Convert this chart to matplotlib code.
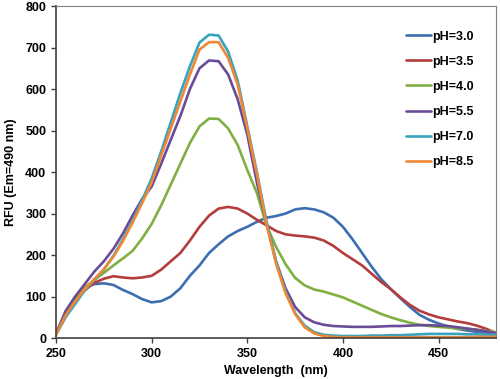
import numpy as np
import matplotlib
matplotlib.use('Agg')
import matplotlib.pyplot as plt

plt.rcParams['font.family'] = ['Liberation Sans', 'DejaVu Sans']
plt.rcParams['font.weight'] = 'bold'

# wavelength grid (nm)
wavelength = list(range(250, 485, 5))

# RFU values, one list per pH
ph30 = [10, 58, 95, 122, 130, 132, 128, 116, 106, 94, 86, 89, 100, 120, 150, 175, 205, 226, 245, 258,
        268, 280, 290, 294, 300, 310, 313, 310, 303, 290, 268, 238, 205, 172, 142, 118, 96, 75, 56, 44,
        35, 28, 22, 18, 15, 13, 10]
ph35 = [10, 55, 90, 115, 133, 143, 149, 146, 144, 146, 150, 165, 185, 205, 235, 268, 295, 312, 316, 312,
        300, 285, 272, 258, 250, 247, 245, 242, 235, 222, 205, 190, 175, 155, 135, 118, 98, 80, 66, 57,
        50, 45, 40, 36, 30, 22, 12]
ph40 = [10, 60, 98, 122, 140, 157, 175, 192, 210, 240, 275, 320, 370, 420, 470, 510, 529, 528, 505, 465,
        405, 350, 272, 220, 178, 145, 127, 117, 112, 105, 98, 88, 78, 68, 58, 50, 43, 37, 32, 29,
        27, 25, 23, 22, 20, 17, 14]
ph55 = [10, 65, 100, 130, 160, 185, 215, 252, 295, 335, 365, 420, 478, 535, 600, 650, 669, 667, 635, 575,
        490, 375, 278, 185, 120, 75, 50, 38, 32, 29, 28, 27, 27, 27, 28, 29, 29, 30, 31, 31,
        30, 29, 26, 23, 20, 16, 12]
ph70 = [8, 50, 82, 115, 140, 165, 198, 238, 282, 332, 385, 450, 520, 590, 655, 712, 731, 729, 690, 620,
        510, 400, 282, 185, 112, 60, 30, 14, 8, 6, 5, 5, 5, 6, 6, 7, 7, 8, 9, 10,
        10, 10, 10, 9, 9, 8, 8]
ph85 = [8, 55, 88, 118, 142, 166, 196, 234, 278, 325, 375, 440, 505, 570, 635, 695, 713, 713, 675, 610,
        505, 395, 275, 180, 108, 58, 26, 11, 5, 3, 2, 2, 2, 2, 2, 2, 2, 2, 2, 2,
        2, 2, 2, 2, 3, 3, 3]

series = [ph30, ph35, ph40, ph55, ph70, ph85]
labels = ['pH=3.0', 'pH=3.5', 'pH=4.0', 'pH=5.5', 'pH=7.0', 'pH=8.5']
colors = ['#3D6EAF', '#B43C3C', '#80AF42', '#6A4B98', '#38A3BE', '#EE8834']

fig = plt.figure(figsize=(5.0, 3.79), dpi=100)
ax = fig.add_axes([0.112, 0.108, 0.880, 0.876])

for y, lab, c in zip(series, labels, colors):
    ax.plot(wavelength, y, color=c, lw=1.9, label=lab,
            solid_capstyle='round', solid_joinstyle='round')

ax.set_xlim(250, 480)
ax.set_ylim(0, 800)
ax.set_xticks([250, 300, 350, 400, 450])
ax.set_yticks(range(0, 900, 100))
ax.tick_params(direction='out', length=3.5, width=1.0, labelsize=9, color='#404040')
for lab in ax.get_xticklabels() + ax.get_yticklabels():
    lab.set_fontweight('bold')

ax.spines['left'].set_color('#404040')
ax.spines['bottom'].set_color('#404040')
ax.spines['left'].set_linewidth(1.2)
ax.spines['bottom'].set_linewidth(1.2)
ax.spines['top'].set_color('#808080')
ax.spines['right'].set_color('#808080')

ax.set_xlabel('Wavelength  (nm)', fontsize=9, fontweight='bold', labelpad=4)
ax.set_ylabel('RFU (Em=490 nm)', fontsize=9, fontweight='bold', labelpad=6)

leg = ax.legend(loc='upper right', bbox_to_anchor=(0.975, 0.96), frameon=False,
                fontsize=9, handlelength=2.0, handletextpad=0.1, labelspacing=1.05)
for t in leg.get_texts():
    t.set_fontweight('bold')

fig.savefig('out.png', dpi=100)
